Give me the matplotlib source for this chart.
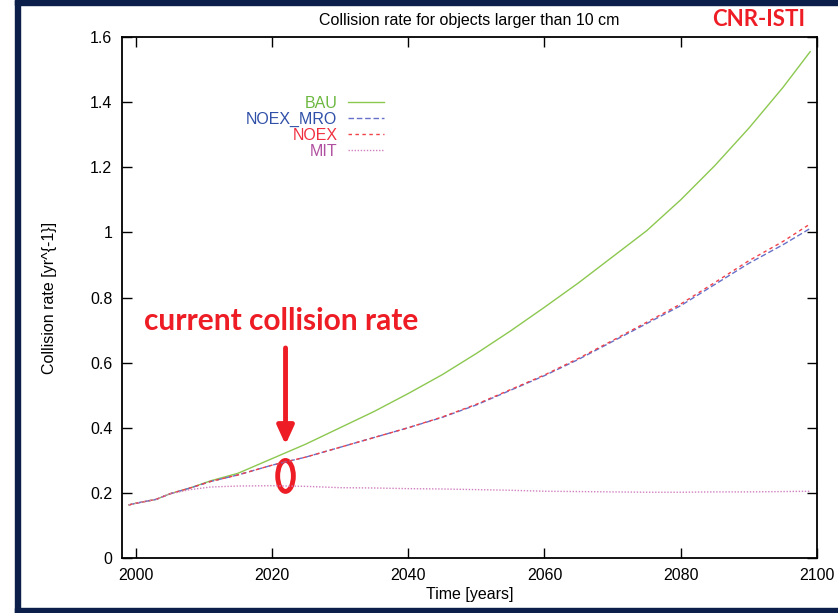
import numpy as np
import matplotlib.pyplot as plt
from matplotlib.patches import Ellipse, Rectangle

# collision rate per scenario, read at these years
years = [1999, 2000, 2003, 2005, 2008, 2011, 2015, 2020, 2025, 2030, 2035, 2040,
         2045, 2050, 2055, 2060, 2065, 2070, 2075, 2080, 2085, 2090, 2095, 2099]
bau = [0.163, 0.168, 0.180, 0.197, 0.215, 0.237, 0.260, 0.305, 0.350, 0.400, 0.450, 0.505,
       0.563, 0.628, 0.697, 0.770, 0.845, 0.925, 1.005, 1.100, 1.205, 1.320, 1.445, 1.555]
noex_mro = [0.163, 0.168, 0.180, 0.197, 0.215, 0.235, 0.255, 0.285, 0.310, 0.340, 0.370, 0.400,
            0.432, 0.470, 0.515, 0.560, 0.610, 0.665, 0.720, 0.775, 0.840, 0.905, 0.962, 1.012]
noex = [0.163, 0.168, 0.180, 0.197, 0.215, 0.235, 0.255, 0.285, 0.310, 0.340, 0.370, 0.400,
        0.433, 0.472, 0.517, 0.562, 0.613, 0.668, 0.724, 0.780, 0.846, 0.913, 0.972, 1.026]
mit = [0.163, 0.168, 0.180, 0.197, 0.210, 0.218, 0.221, 0.222, 0.220, 0.216, 0.215, 0.213,
       0.212, 0.210, 0.208, 0.205, 0.204, 0.203, 0.202, 0.202, 0.203, 0.203, 0.204, 0.205]

xticks = [2000, 2020, 2040, 2060, 2080, 2100]
yticks = [0, 0.2, 0.4, 0.6, 0.8, 1.0, 1.2, 1.4, 1.6]
ytick_labels = ['0', '0.2', '0.4', '0.6', '0.8', '1', '1.2', '1.4', '1.6']

plt.rcParams['font.family'] = ['Liberation Sans', 'DejaVu Sans']

fig = plt.figure(figsize=(8.38, 6.13), dpi=100)
ax = fig.add_axes([122 / 838, 55 / 613, 695 / 838, 521 / 613])

ax.plot(years, bau, color='#8cc850', lw=1.0, label='BAU')
ax.plot(years, noex_mro, color='#6670c8', lw=1.0, ls=(0, (4, 2)), label='NOEX_MRO')
ax.plot(years, noex, color='#f04048', lw=1.0, ls=(0, (2.5, 2.5)), label='NOEX')
ax.plot(years, mit, color='#d080c0', lw=1.0, ls=(0, (1, 1.2)), label='MIT')

ax.set_xlim(1998, 2100)
ax.set_ylim(0, 1.6)
ax.set_xticks(xticks)
ax.set_yticks(yticks)
ax.set_yticklabels(ytick_labels)
ax.tick_params(direction='in', length=7, width=1, top=True, right=True,
               labelsize=11.5, pad=7)
for s in ax.spines.values():
    s.set_linewidth(1.3)

ax.set_title('Collision rate for objects larger than 10 cm', fontsize=11.5, pad=9)
ax.set_xlabel('Time [years]', fontsize=11.5, labelpad=3)
ax.set_ylabel('Collision rate [yr^{-1}]', fontsize=11.5, labelpad=24)

ax.legend(loc='upper right', bbox_to_anchor=(0.389, 0.903), frameon=False,
          markerfirst=False, fontsize=11.5, handlelength=2.3, handletextpad=0.65,
          labelspacing=0.07, borderpad=0,
          labelcolor=['#6cb840', '#3050a8', '#f03040', '#b050a0'])

# annotation for today's rate
red = '#ee1c25'
ax.text(2021.4, 0.728, 'current collision rate', color=red, fontsize=21.5,
        fontweight='bold', family=['Lato', 'DejaVu Sans'], ha='center', va='center')
ax.annotate('', xy=(2022, 0.348), xytext=(2022, 0.645),
            arrowprops=dict(arrowstyle='-|>,head_length=1.1,head_width=0.5',
                            color=red, lw=3.5, shrinkA=0, shrinkB=0))
ax.add_patch(Ellipse((2022, 0.252), 2.3, 0.095, fill=False, ec=red, lw=3.5))

fig.text(759 / 838, 1 - 20 / 613, 'CNR-ISTI', color=red, fontsize=16,
         fontweight='bold', family=['Lato', 'DejaVu Sans'],
         ha='center', va='center')

# dark slide frame
navy = '#0c1f4a'
fig.patches.append(Rectangle((15 / 838, 0), 5 / 838, 1, transform=fig.transFigure,
                             color=navy, zorder=10))
fig.patches.append(Rectangle((15 / 838, 1 - 5 / 613), 1, 5 / 613, transform=fig.transFigure,
                             color=navy, zorder=10))
fig.patches.append(Rectangle((15 / 838, 0), 1, 5 / 613, transform=fig.transFigure,
                             color=navy, zorder=10))

fig.savefig('out.png', dpi=100)
